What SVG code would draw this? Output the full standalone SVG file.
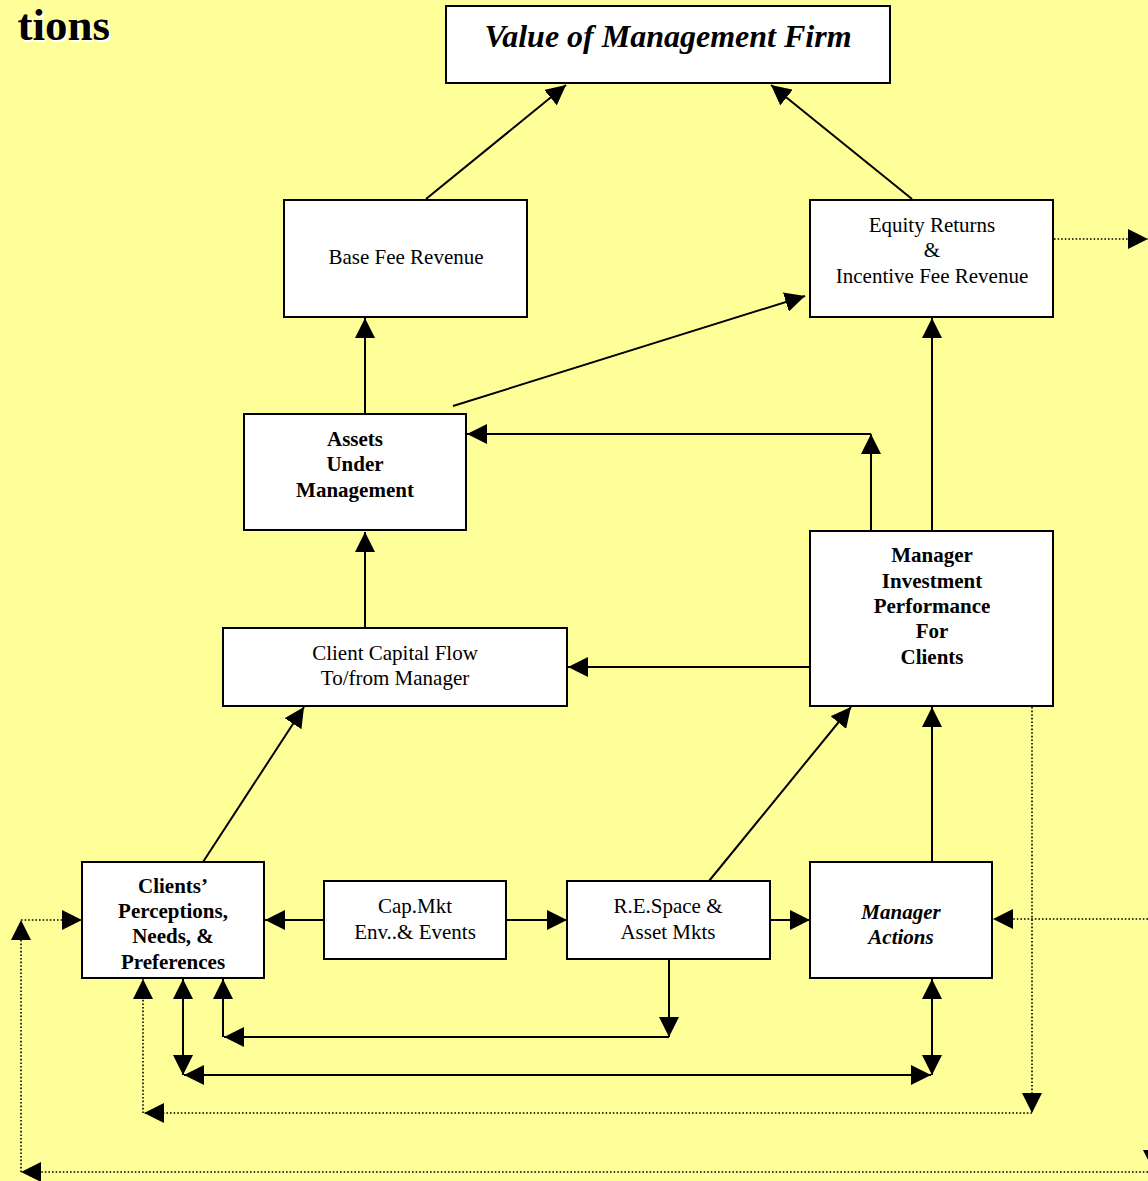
<svg xmlns="http://www.w3.org/2000/svg" width="1148" height="1181" viewBox="0 0 1148 1181">
<defs>
<marker id="ah" markerUnits="userSpaceOnUse" markerWidth="20" markerHeight="20" viewBox="0 0 20 20" refX="20" refY="10" orient="auto-start-reverse">
<path d="M0,0 L20,10 L0,20 z" fill="#000"/>
</marker>
</defs>
<style>
.box{fill:#fff;stroke:#000;stroke-width:2}
.t{font-family:"Liberation Serif","Times New Roman",serif;font-size:21px;text-anchor:middle;fill:#000}
.b{font-weight:bold}
.i{font-style:italic}
.big{font-size:32px}
.c{fill:none;stroke:#000;stroke-width:2;marker-end:url(#ah)}
.d{fill:none;stroke:#000;stroke-width:1.6;stroke-dasharray:1.6 2;marker-end:url(#ah)}
.both{marker-start:url(#ah)}
.ttl{font-family:"Liberation Serif","Times New Roman",serif;font-weight:bold;font-size:45px;text-anchor:end}
</style>
<rect width="1148" height="1181" fill="#ffff99"/>
<g id="title">
<text class="ttl" x="112" y="42" fill="#fff">tions</text>
<text class="ttl" x="110" y="40" fill="#000">tions</text>
</g>
<g id="connectors">
<path class="c" d="M426,199 L566,85"/>
<path class="c" d="M912,199 L771,85"/>
<path class="c" d="M365,414 L365,318"/>
<path class="c" d="M453,406 L805,296"/>
<path class="c" d="M871,531 L871,434"/>
<path class="c" d="M871,434 L467,434"/>
<path class="c" d="M932,531 L932,318"/>
<path class="c" d="M365,628 L365,532"/>
<path class="c" d="M810,667 L568,667"/>
<path class="c" d="M203,862 L304,707"/>
<path class="c" d="M709,881 L851,707"/>
<path class="c" d="M932,862 L932,707"/>
<path class="c" d="M324,920 L265,920"/>
<path class="c" d="M506,920 L567,920"/>
<path class="c" d="M770,920 L810,920"/>
<path class="c" d="M669,959 L669,1037"/>
<path class="c" d="M669,1037 L224,1037"/>
<path class="c" d="M223,1037 L223,979"/>
<path class="c both" d="M183,979 L183,1075"/>
<path class="c both" d="M184,1075 L931,1075"/>
<path class="c both" d="M932,979 L932,1075"/>
<path class="d" d="M1032,707 L1032,1113"/>
<path class="d" d="M1032,1113 L144,1113"/>
<path class="d" d="M143,1113 L143,979"/>
<path class="d" d="M1148,919 L993,919"/>
<path class="d" d="M1148,1172 L21,1172"/>
<path class="d" d="M21,1172 L21,920"/>
<path class="d" d="M21,920 L82,920"/>
<path class="d" d="M1054,239 L1148,239"/>
<path d="M1143,1150 L1163,1150 L1153,1170 z" fill="#000"/>
</g>
<g id="value">
<rect class="box" x="446" y="6" width="444" height="77"/>
<text class="t b i big" x="668" y="47">Value of Management Firm</text>
</g>
<g id="basefee">
<rect class="box" x="284" y="200" width="243" height="117"/>
<text class="t" x="406" y="264">Base Fee Revenue</text>
</g>
<g id="equity">
<rect class="box" x="810" y="200" width="243" height="117"/>
<text class="t" x="932" y="232">Equity Returns</text>
<text class="t" x="932" y="257">&amp;</text>
<text class="t" x="932" y="283">Incentive Fee Revenue</text>
</g>
<g id="aum">
<rect class="box" x="244" y="414" width="222" height="116"/>
<text class="t b" x="355" y="446">Assets</text>
<text class="t b" x="355" y="471">Under</text>
<text class="t b" x="355" y="497">Management</text>
</g>
<g id="perf">
<rect class="box" x="810" y="531" width="243" height="175"/>
<text class="t b" x="932" y="562">Manager</text>
<text class="t b" x="932" y="588">Investment</text>
<text class="t b" x="932" y="613">Performance</text>
<text class="t b" x="932" y="638">For</text>
<text class="t b" x="932" y="664">Clients</text>
</g>
<g id="capflow">
<rect class="box" x="223" y="628" width="344" height="78"/>
<text class="t" x="395" y="660">Client Capital Flow</text>
<text class="t" x="395" y="685">To/from Manager</text>
</g>
<g id="clients">
<rect class="box" x="82" y="862" width="182" height="116"/>
<text class="t b" x="173" y="893">Clients’</text>
<text class="t b" x="173" y="918">Perceptions,</text>
<text class="t b" x="173" y="943">Needs, &amp;</text>
<text class="t b" x="173" y="969">Preferences</text>
</g>
<g id="capmkt">
<rect class="box" x="324" y="881" width="182" height="78"/>
<text class="t" x="415" y="913">Cap.Mkt</text>
<text class="t" x="415" y="939">Env..&amp; Events</text>
</g>
<g id="respace">
<rect class="box" x="567" y="881" width="203" height="78"/>
<text class="t" x="668" y="913">R.E.Space &amp;</text>
<text class="t" x="668" y="939">Asset Mkts</text>
</g>
<g id="actions">
<rect class="box" x="810" y="862" width="182" height="116"/>
<text class="t b i" x="901" y="919">Manager</text>
<text class="t b i" x="901" y="944">Actions</text>
</g>
</svg>
